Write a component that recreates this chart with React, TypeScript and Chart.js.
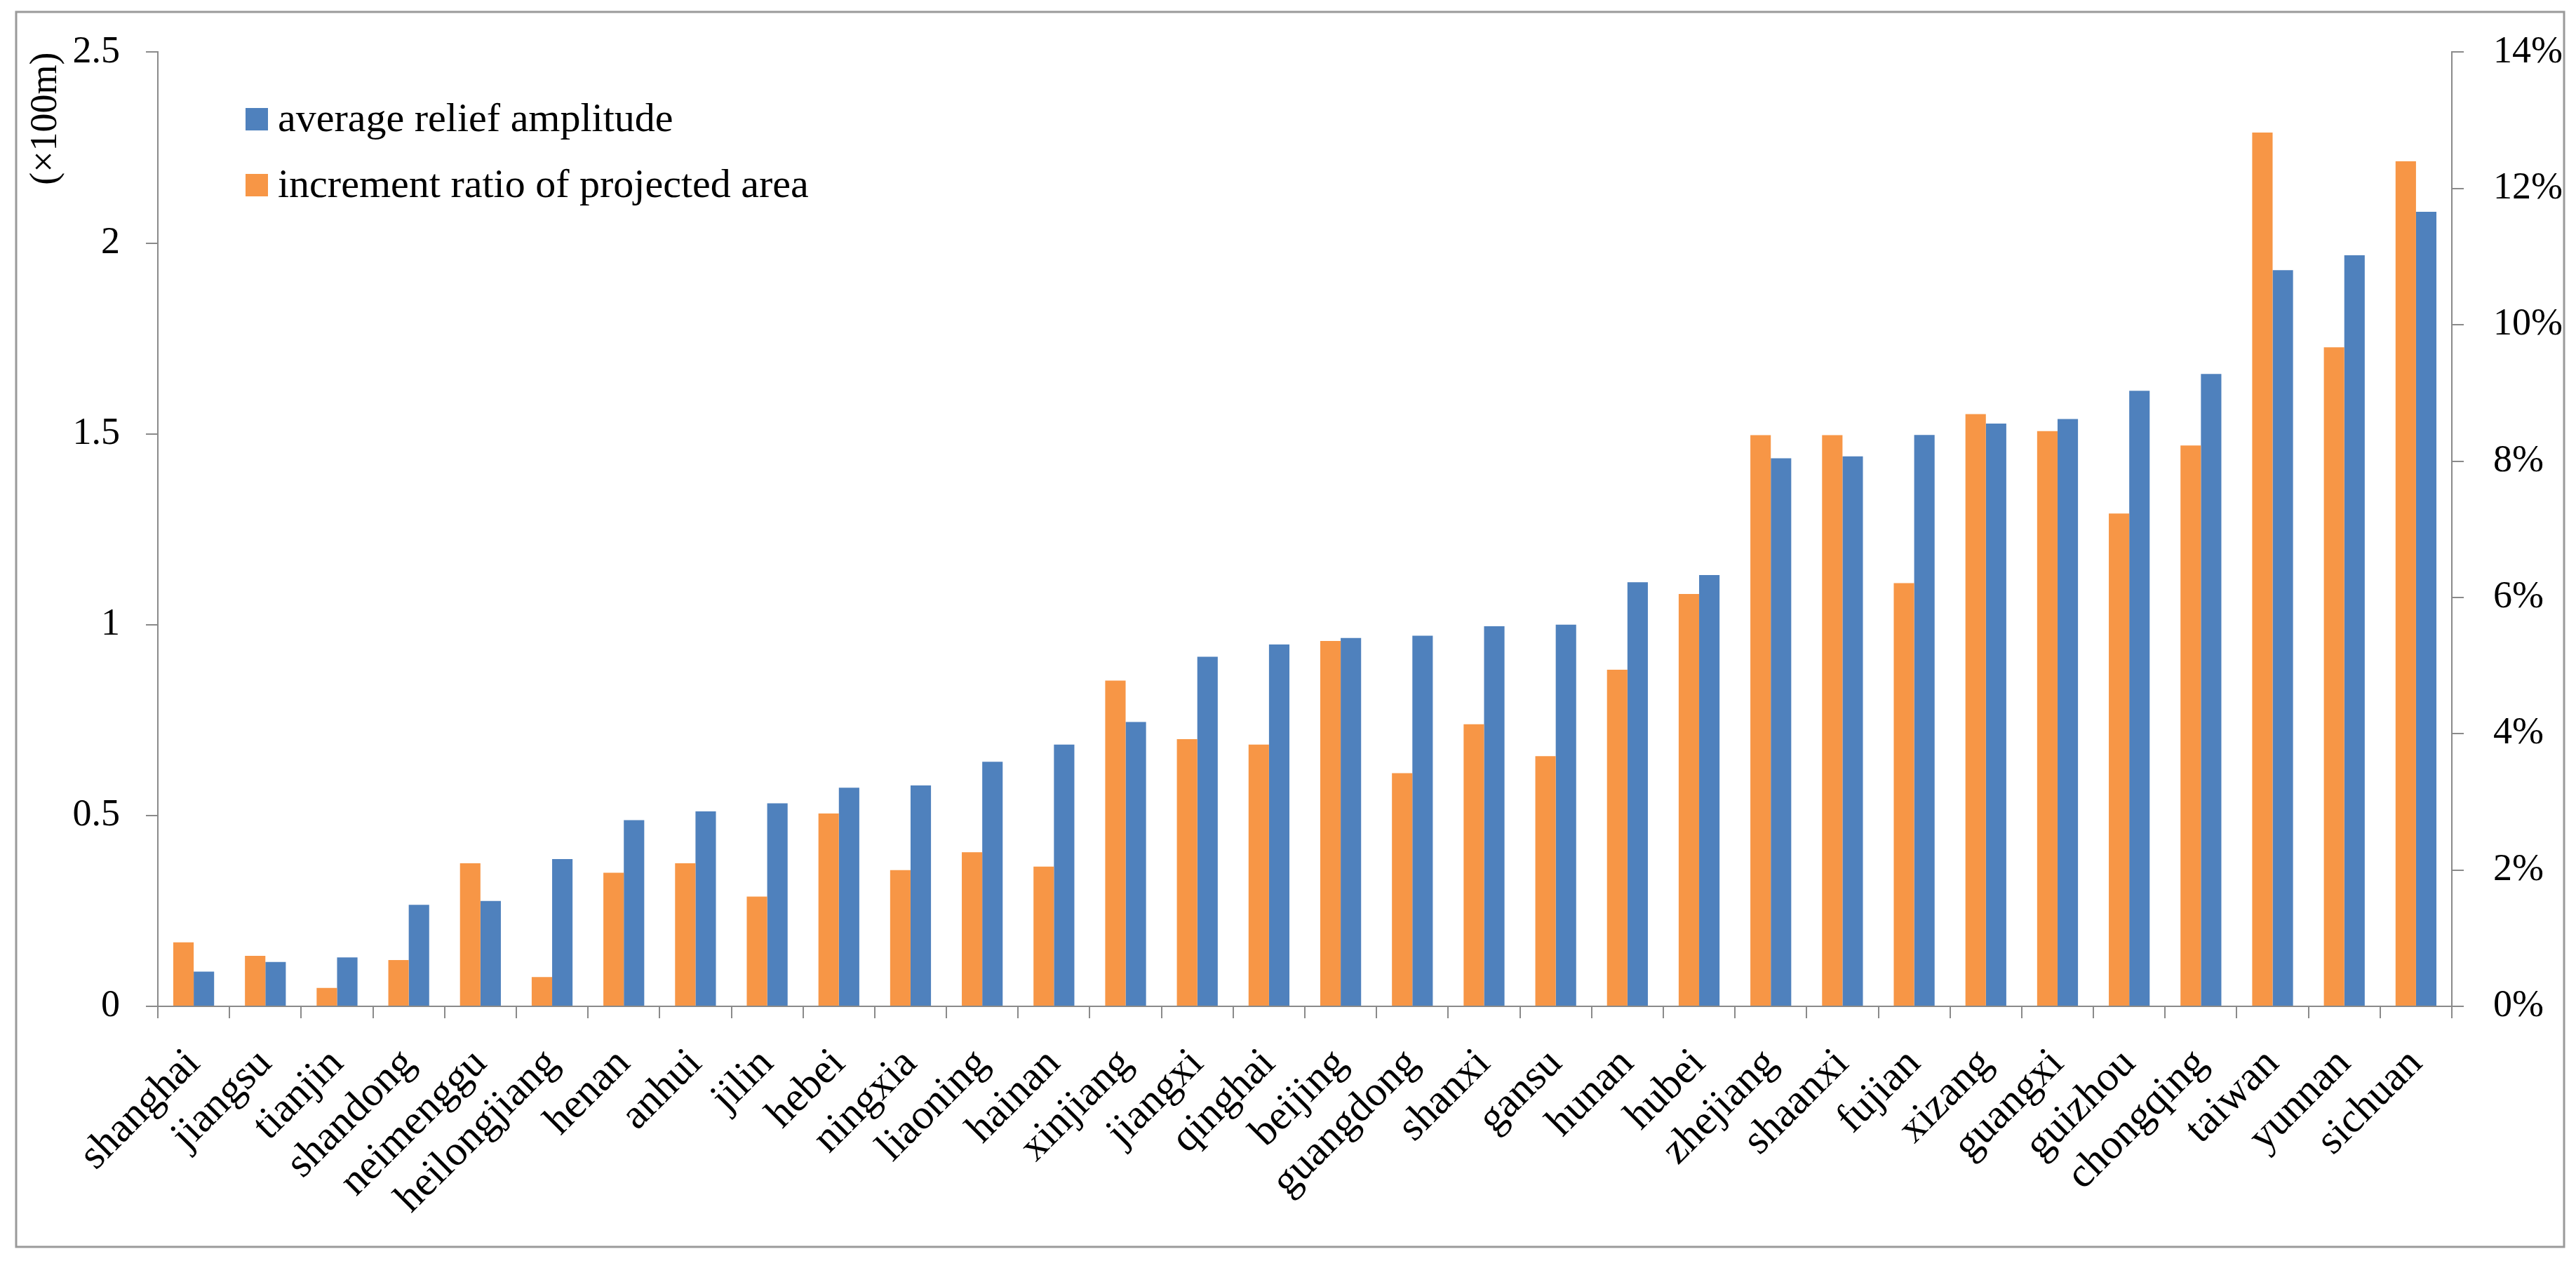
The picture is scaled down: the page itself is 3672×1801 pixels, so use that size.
import React, { useEffect, useRef } from 'react';
import { Chart, registerables } from 'chart.js';

Chart.register(...registerables);

const provinces = [
  'shanghai', 'jiangsu', 'tianjin', 'shandong', 'neimenggu', 'heilongjiang', 'henan', 'anhui',
  'jilin', 'hebei', 'ningxia', 'liaoning', 'hainan', 'xinjiang', 'jiangxi', 'qinghai',
  'beijing', 'guangdong', 'shanxi', 'gansu', 'hunan', 'hubei', 'zhejiang', 'shaanxi',
  'fujian', 'xizang', 'guangxi', 'guizhou', 'chongqing', 'taiwan', 'yunnan', 'sichuan',
];

// average relief amplitude (×100m), left axis
const reliefAmplitude = [
  0.091, 0.116, 0.128, 0.266, 0.276, 0.386, 0.488, 0.511,
  0.532, 0.573, 0.579, 0.641, 0.686, 0.745, 0.916, 0.948,
  0.965, 0.971, 0.996, 1.0, 1.111, 1.13, 1.436, 1.441,
  1.497, 1.527, 1.539, 1.613, 1.657, 1.929, 1.968, 2.082,
];

// increment ratio of projected area (%), right axis
const incrementRatio = [
  0.94, 0.74, 0.27, 0.68, 2.1, 0.43, 1.96, 2.1,
  1.61, 2.83, 2.0, 2.26, 2.05, 4.78, 3.92, 3.84,
  5.36, 3.42, 4.14, 3.67, 4.94, 6.05, 8.38, 8.38,
  6.21, 8.69, 8.44, 7.23, 8.23, 12.82, 9.67, 12.4,
];

const seriesNames = ['average relief amplitude', 'increment ratio of projected area'];
const leftAxisTitle = '(×100m)';
const leftAxisRange = [0, 2.5, 0.5];
const rightAxisRange = [0, 14, 2];

const BLUE = '#4f81bd';
const ORANGE = '#f79646';
const AXIS = '#8a8a8a';
const FONT = '"Liberation Serif", "Times New Roman", serif';

export default function App() {
  const ref = useRef<HTMLCanvasElement | null>(null);

  useEffect(() => {
    document.body.style.margin = '0';
    const canvas = ref.current;
    if (!canvas) return;

    const frameAndLegend = {
      id: 'frameAndLegend',
      beforeDraw(chart: any) {
        const ctx = chart.ctx;
        ctx.save();
        ctx.fillStyle = '#ffffff';
        ctx.fillRect(0, 0, chart.width, chart.height);
        ctx.restore();
      },
      afterDraw(chart: any) {
        const ctx = chart.ctx;
        ctx.save();
        ctx.strokeStyle = '#9a9a9a';
        ctx.lineWidth = 3;
        ctx.strokeRect(23, 17, 3632, 1761);
        const items = [
          { text: seriesNames[0], color: BLUE },
          { text: seriesNames[1], color: ORANGE },
        ];
        ctx.font = `58px ${FONT}`;
        ctx.textBaseline = 'middle';
        ctx.textAlign = 'left';
        items.forEach((it, i) => {
          const cy = 170 + i * 94;
          ctx.fillStyle = it.color;
          ctx.fillRect(350, cy - 16, 32, 32);
          ctx.fillStyle = '#000000';
          ctx.fillText(it.text, 396, cy + 2);
        });
        ctx.restore();
      },
    };

    const chart = new Chart(canvas, {
      type: 'bar',
      data: {
        labels: provinces,
        datasets: [
          {
            label: seriesNames[1],
            data: incrementRatio,
            backgroundColor: ORANGE,
            yAxisID: 'y1',
            categoryPercentage: 0.57,
            barPercentage: 1,
          },
          {
            label: seriesNames[0],
            data: reliefAmplitude,
            backgroundColor: BLUE,
            yAxisID: 'y',
            categoryPercentage: 0.57,
            barPercentage: 1,
          },
        ],
      },
      options: {
        animation: false,
        responsive: false,
        devicePixelRatio: 1,
        layout: { padding: { top: 70, left: 0, right: 0, bottom: 0 } },
        plugins: {
          legend: { display: false },
          tooltip: { enabled: false },
        },
        scales: {
          x: {
            grid: {
              offset: true,
              drawOnChartArea: false,
              tickLength: 17,
              color: AXIS,
              lineWidth: 2,
            },
            border: { color: AXIS, width: 2 },
            ticks: {
              autoSkip: false,
              minRotation: 45,
              maxRotation: 45,
              color: '#000000',
              padding: 30,
              font: { family: FONT, size: 60 },
            },
            afterFit: (s: any) => {
              s.height = 366;
            },
          },
          y: {
            position: 'left',
            min: leftAxisRange[0],
            max: leftAxisRange[1],
            ticks: {
              stepSize: leftAxisRange[2],
              color: '#000000',
              padding: 37,
              font: { family: FONT, size: 54 },
              callback: (v: any) => String(Math.round(Number(v) * 10) / 10),
            },
            grid: {
              drawOnChartArea: false,
              tickLength: 17,
              color: AXIS,
              lineWidth: 2,
            },
            border: { color: AXIS, width: 2 },
            title: {
              display: true,
              text: leftAxisTitle,
              align: 'end',
              color: '#000000',
              font: { family: FONT, size: 54 },
              padding: { top: 33, bottom: 0 },
            },
            afterFit: (s: any) => {
              s.width = 225;
            },
          },
          y1: {
            position: 'right',
            min: rightAxisRange[0],
            max: rightAxisRange[1],
            ticks: {
              stepSize: rightAxisRange[2],
              color: '#000000',
              padding: 42,
              font: { family: FONT, size: 54 },
              callback: (v: any) => `${v}%`,
            },
            grid: {
              drawOnChartArea: false,
              tickLength: 17,
              color: AXIS,
              lineWidth: 2,
            },
            border: { color: AXIS, width: 2 },
            afterFit: (s: any) => {
              s.width = 177;
            },
          },
        },
      },
      plugins: [frameAndLegend],
    });

    return () => chart.destroy();
  }, []);

  return (
    <div style={{ width: 3672, height: 1801, background: '#ffffff' }}>
      <canvas ref={ref} width={3672} height={1801} style={{ display: 'block', width: 3672, height: 1801 }} />
    </div>
  );
}
